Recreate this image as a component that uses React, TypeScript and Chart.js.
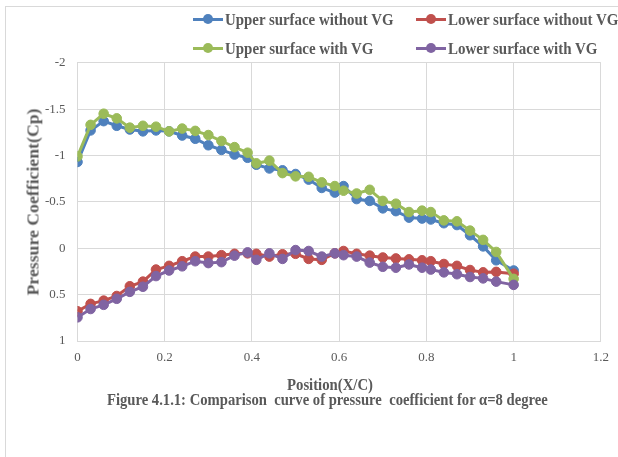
import React, { useEffect, useRef } from "react";
import { Chart, registerables } from "chart.js";

Chart.register(...registerables);

const xPositions = [0, 0.03, 0.06, 0.09, 0.12, 0.15, 0.18, 0.21, 0.24, 0.27, 0.3, 0.33, 0.36, 0.39, 0.41, 0.44, 0.47, 0.5, 0.53, 0.56, 0.59, 0.61, 0.64, 0.67, 0.7, 0.73, 0.76, 0.79, 0.81, 0.84, 0.87, 0.9, 0.93, 0.96, 1.0];

const upperWithoutVG = [-0.93, -1.27, -1.37, -1.32, -1.28, -1.26, -1.27, -1.26, -1.215, -1.18, -1.11, -1.06, -1.01, -0.975, -0.9, -0.86, -0.84, -0.8, -0.74, -0.65, -0.6, -0.67, -0.53, -0.51, -0.43, -0.4, -0.33, -0.32, -0.31, -0.27, -0.25, -0.14, -0.02, 0.13, 0.24];
const lowerWithoutVG = [0.68, 0.6, 0.565, 0.515, 0.41, 0.36, 0.23, 0.19, 0.14, 0.09, 0.09, 0.075, 0.06, 0.055, 0.06, 0.09, 0.065, 0.06, 0.115, 0.125, 0.055, 0.03, 0.06, 0.08, 0.1, 0.11, 0.12, 0.13, 0.14, 0.17, 0.19, 0.235, 0.26, 0.255, 0.275];
const upperWithVG = [-0.99, -1.33, -1.45, -1.4, -1.3, -1.32, -1.31, -1.26, -1.29, -1.265, -1.22, -1.156, -1.09, -1.03, -0.915, -0.944, -0.81, -0.775, -0.77, -0.71, -0.67, -0.62, -0.59, -0.63, -0.51, -0.48, -0.39, -0.405, -0.39, -0.3, -0.29, -0.19, -0.09, 0.04, 0.33];
const lowerWithVG = [0.745, 0.655, 0.61, 0.545, 0.47, 0.415, 0.3, 0.24, 0.195, 0.14, 0.16, 0.15, 0.08, 0.045, 0.125, 0.055, 0.115, 0.02, 0.03, 0.09, 0.055, 0.075, 0.09, 0.155, 0.2, 0.21, 0.175, 0.21, 0.23, 0.26, 0.28, 0.31, 0.325, 0.36, 0.395];

const seriesNames = ["Upper surface without VG", "Lower surface without VG", "Upper surface with VG", "Lower surface with VG"];
const seriesColors = ["#4F81BD", "#C0504D", "#9BBB59", "#8064A2"];

const xTickValues = [0, 0.2, 0.4, 0.6, 0.8, 1, 1.2];
const xTickLabels = ["0", "0.2", "0.4", "0.6", "0.8", "1", "1.2"];
const yTickValues = [-2, -1.5, -1, -0.5, 0, 0.5, 1];
const yTickLabels = ["-2", "-1.5", "-1", "-0.5", "0", "0.5", "1"];

const xTitle = "Position(X/C)";
const yTitle = "Pressure Coefficient(Cp)";
const caption = "Figure 4.1.1: Comparison  curve of pressure  coefficient for α=8 degree";

const SERIF = "'Liberation Serif', 'Times New Roman', serif";
const TEXT = "#595959";

let measureCtx: CanvasRenderingContext2D | null = null;
function measure(text: string, font: string): number {
  if (!measureCtx) measureCtx = document.createElement("canvas").getContext("2d");
  measureCtx!.font = font;
  return measureCtx!.measureText(text).width;
}

function FitText(props: { text: string; size: number; left: number; cy: number; width: number; bold?: boolean }) {
  const font = `${props.bold ? "bold " : ""}${props.size}px ${SERIF}`;
  const s = props.width / measure(props.text, font);
  return (
    <span
      style={{
        position: "absolute",
        left: props.left,
        top: props.cy,
        font,
        lineHeight: 1,
        color: TEXT,
        whiteSpace: "pre",
        transform: `translateY(-50%) scaleX(${s})`,
        transformOrigin: "left center",
      }}
    >
      {props.text}
    </span>
  );
}

function LegendItem(props: { name: string; color: string; x: number; cy: number; textWidth: number }) {
  return (
    <>
      <div style={{ position: "absolute", left: props.x, top: props.cy - 1.5, width: 30, height: 3, background: props.color }} />
      <div
        style={{
          position: "absolute",
          left: props.x + 15 - 5,
          top: props.cy - 5,
          width: 10,
          height: 10,
          borderRadius: "50%",
          background: props.color,
        }}
      />
      <FitText text={props.name} size={17} bold left={props.x + 32} cy={props.cy} width={props.textWidth} />
    </>
  );
}

export default function App() {
  const canvasRef = useRef<HTMLCanvasElement | null>(null);

  useEffect(() => {
    const canvas = canvasRef.current!;
    const seriesValues = [upperWithoutVG, lowerWithoutVG, upperWithVG, lowerWithVG];
    const orders = [4, 3, 2, 1];
    const chart = new Chart(canvas, {
      type: "scatter",
      data: {
        datasets: seriesValues.map((vals, i) => ({
          label: seriesNames[i],
          data: vals.map((v, j) => ({ x: xPositions[j], y: v })),
          showLine: true,
          borderColor: seriesColors[i],
          backgroundColor: seriesColors[i],
          borderWidth: 3,
          pointRadius: 4.8,
          pointBorderWidth: 1,
          pointBorderColor: seriesColors[i],
          pointBackgroundColor: seriesColors[i],
          order: orders[i],
        })),
      },
      options: {
        animation: false,
        responsive: false,
        maintainAspectRatio: false,
        layout: { padding: { top: 62.7, right: 16.7, left: 0, bottom: 0 } },
        plugins: { legend: { display: false }, tooltip: { enabled: false }, title: { display: false } },
        scales: {
          x: {
            type: "linear",
            min: 0,
            max: 1.2,
            afterFit: (s: any) => {
              s.height = 116;
            },
            afterBuildTicks: (s: any) => {
              s.ticks = xTickValues.map((v) => ({ value: v }));
            },
            ticks: {
              callback: (_v: any, i: number) => xTickLabels[i],
              color: TEXT,
              font: { family: SERIF, size: 13 },
              padding: 9,
              maxRotation: 0,
            },
            grid: { color: "#D9D9D9", drawTicks: false, lineWidth: 1 },
            border: { color: "#D9D9D9" },
          },
          y: {
            type: "linear",
            reverse: true,
            min: -2,
            max: 1,
            afterFit: (s: any) => {
              s.width = 77.5;
            },
            afterBuildTicks: (s: any) => {
              s.ticks = yTickValues.map((v) => ({ value: v }));
            },
            ticks: {
              callback: (_v: any, i: number) => yTickLabels[i],
              color: TEXT,
              font: { family: SERIF, size: 13 },
              padding: 12,
            },
            grid: { color: "#D9D9D9", drawTicks: false, lineWidth: 1 },
            border: { color: "#D9D9D9" },
          },
        },
      },
    } as any);
    return () => chart.destroy();
  }, []);

  const yFont = `bold 17px ${SERIF}`;
  const yScale = 187 / measure(yTitle, yFont);

  return (
    <div style={{ position: "fixed", left: 0, top: 0, width: 618, height: 457, overflow: "hidden", background: "#fff" }}>
      <div style={{ position: "absolute", left: 5, top: 6, width: 800, height: 800, border: "1px solid #D9D9D9" }} />
      <canvas ref={canvasRef} width={618} height={457} style={{ position: "absolute", left: 0, top: 0, display: "block" }} />
      <LegendItem name={seriesNames[0]} color={seriesColors[0]} x={193} cy={19} textWidth={169} />
      <LegendItem name={seriesNames[1]} color={seriesColors[1]} x={416} cy={19} textWidth={171} />
      <LegendItem name={seriesNames[2]} color={seriesColors[2]} x={193} cy={48} textWidth={149} />
      <LegendItem name={seriesNames[3]} color={seriesColors[3]} x={416} cy={48} textWidth={150} />
      <span
        style={{
          position: "absolute",
          left: 33,
          top: 202,
          font: yFont,
          lineHeight: 1,
          color: TEXT,
          whiteSpace: "nowrap",
          transform: `translate(-50%, -50%) rotate(-90deg) scaleX(${yScale})`,
        }}
      >
        {yTitle}
      </span>
      <FitText text={xTitle} size={17} bold left={287} cy={384} width={86} />
      <FitText text={caption} size={17} bold left={107} cy={399} width={441} />
    </div>
  );
}
